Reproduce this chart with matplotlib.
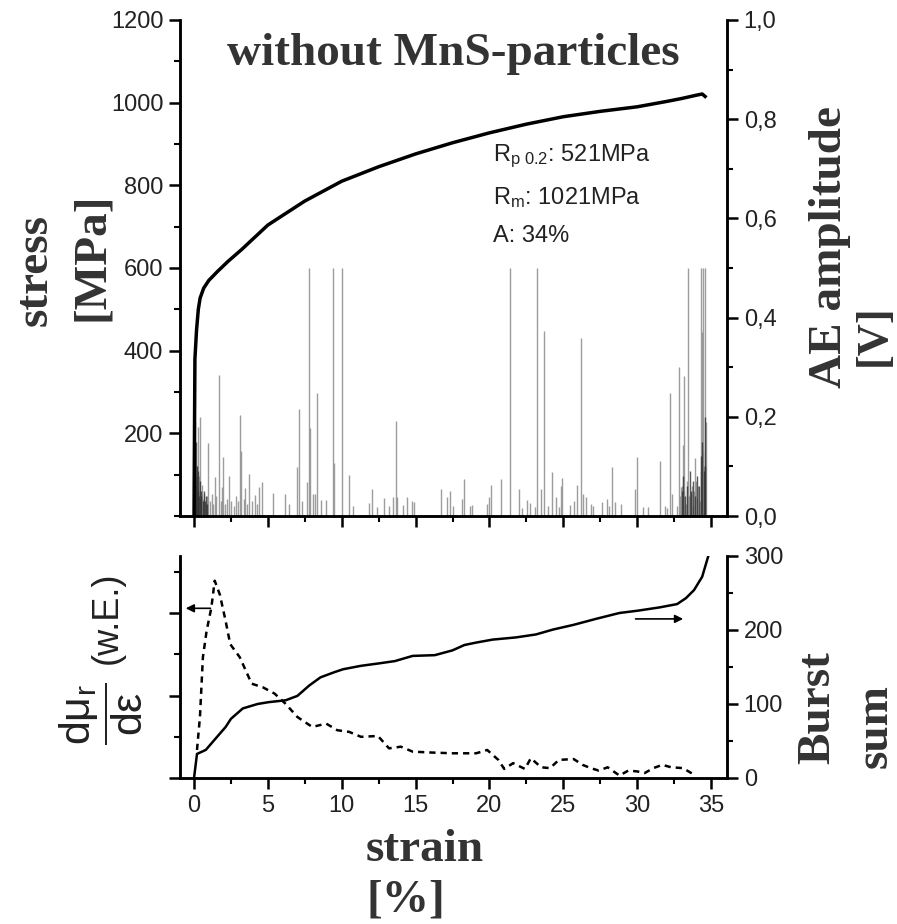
import matplotlib
matplotlib.use("Agg")
import matplotlib.pyplot as plt
from matplotlib.ticker import MultipleLocator, FuncFormatter

plt.rcParams['font.family'] = ['Liberation Sans', 'DejaVu Sans']
plt.rcParams['mathtext.fontset'] = 'custom'
plt.rcParams['mathtext.rm'] = 'Liberation Sans'
plt.rcParams['mathtext.it'] = 'Liberation Sans'

# --- stress-strain curve (top, left axis) ---
stress_strain = [0.0, 0.03, 0.06, 0.17, 0.29, 0.41, 0.65, 1.0, 1.6, 2.3, 3.2, 5.0, 7.5, 10.0,
                 12.5, 15.0, 17.5, 20.0, 22.5, 25.0, 27.5, 30.0, 32.0, 33.0, 34.0, 34.4, 34.6]
stress_mpa = [0, 200, 380, 450, 500, 527, 551, 570, 592, 616, 644, 704, 762, 810,
              845, 876, 903, 927, 948, 966, 979, 990, 1003, 1010, 1018, 1021, 1015]

# --- AE amplitude bursts (top, right axis) ---
ae_strain = [0.12, 0.18, 0.22, 0.29, 0.35, 0.41, 0.48, 0.55, 0.62, 0.70, 0.78, 0.85, 0.97,
             1.05, 1.20, 1.30, 1.42, 1.50, 1.71, 1.80, 1.90, 1.94, 2.10, 2.25, 2.39, 2.50,
             2.70, 2.85, 3.00, 3.14, 3.18, 3.35, 3.48, 3.60, 3.72, 3.90, 4.11, 4.25, 4.38,
             4.58, 5.33, 6.16, 6.40, 6.95, 7.13, 7.30, 7.63, 7.78, 7.82, 8.05, 8.20, 8.35,
             8.62, 8.94, 9.39, 9.48, 10.0, 10.49, 10.74, 11.87, 12.03, 12.37, 12.86, 13.22,
             13.49, 13.68, 13.76, 14.17, 14.40, 14.74, 14.90, 16.72, 17.11, 17.36, 17.56,
             18.12, 18.30, 18.69, 18.85, 19.82, 20.00, 20.11, 20.77, 21.38, 22.03, 22.23,
             22.55, 22.77, 23.09, 23.25, 23.49, 23.72, 23.99, 24.26, 24.49, 24.71, 24.85,
             24.90, 25.46, 25.75, 25.91, 26.22, 26.36, 26.54, 26.86, 27.04, 27.60, 27.94,
             28.12, 28.28, 28.50, 28.91, 29.86, 30.01, 30.38, 30.72, 31.55, 31.89, 32.05,
             32.20, 32.34, 32.72, 32.85, 32.90, 32.95, 33.00, 33.09, 33.15, 33.20, 33.31,
             33.35, 33.45, 33.50, 33.63, 33.70, 33.81, 33.85, 33.94, 34.00, 34.08, 34.15,
             34.26, 34.30, 34.35, 34.40, 34.45, 34.48, 34.50, 34.55, 34.60, 34.66]
ae_amp = [0.06, 0.10, 0.04, 0.18, 0.08, 0.199, 0.03, 0.062, 0.035, 0.045, 0.025, 0.04, 0.147,
          0.03, 0.045, 0.025, 0.079, 0.04, 0.284, 0.03, 0.058, 0.119, 0.025, 0.035, 0.081, 0.03,
          0.02, 0.04, 0.03, 0.204, 0.131, 0.035, 0.057, 0.025, 0.085, 0.03, 0.042, 0.025, 0.058,
          0.069, 0.046, 0.044, 0.025, 0.099, 0.215, 0.03, 0.069, 0.5, 0.177, 0.045, 0.045, 0.248,
          0.033, 0.033, 0.5, 0.106, 0.5, 0.082, 0.021, 0.027, 0.054, 0.019, 0.037, 0.021,
          0.038, 0.191, 0.038, 0.023, 0.038, 0.030, 0.028, 0.054, 0.038, 0.051, 0.021,
          0.035, 0.075, 0.021, 0.023, 0.024, 0.038, 0.063, 0.075, 0.5, 0.054, 0.016,
          0.033, 0.027, 0.018, 0.5, 0.054, 0.372, 0.021, 0.088, 0.039, 0.019, 0.061,
          0.076, 0.023, 0.031, 0.063, 0.358, 0.045, 0.038, 0.025, 0.021, 0.028, 0.035,
          0.021, 0.099, 0.029, 0.025, 0.054, 0.119, 0.019, 0.019, 0.110, 0.021, 0.016,
          0.248, 0.045, 0.021, 0.300, 0.04, 0.058, 0.06, 0.143, 0.282, 0.05, 0.025,
          0.07, 0.5, 0.04, 0.045, 0.06, 0.021, 0.05, 0.117, 0.07, 0.035, 0.06,
          0.031, 0.5, 0.09, 0.370, 0.5, 0.132, 0.10, 0.08, 0.5, 0.190]

# dense dark clusters at the start and end of the test
dense_strain = [0.05, 0.08, 0.10, 0.14, 0.16, 0.20, 0.24, 0.27, 0.32, 0.38, 0.44, 0.50, 0.58,
                0.66, 0.74, 0.82, 0.90, 33.00, 33.10, 33.25, 33.40, 33.55, 33.65, 33.75,
                33.90, 34.05, 34.20, 34.35, 34.42, 34.50, 34.58, 34.62]
dense_amp = [0.12, 0.19, 0.08, 0.15, 0.06, 0.10, 0.05, 0.09, 0.04, 0.07, 0.05, 0.04, 0.03,
             0.05, 0.03, 0.04, 0.025, 0.05, 0.08, 0.04, 0.06, 0.09, 0.05, 0.07, 0.04, 0.08,
             0.06, 0.12, 0.15, 0.09, 0.20, 0.10]

# --- dmu/deps (bottom, left axis, arbitrary units) ---
deriv_strain = [0.2, 0.4, 0.6, 0.85, 1.17, 1.4, 1.75, 2.14, 2.45, 3.1, 3.9, 4.67, 5.45, 6.2,
                7.0, 8.0, 8.95, 9.7, 10.5, 11.3, 12.45, 13.2, 14.0, 14.8, 15.95, 17.5, 19.1,
                19.85, 20.6, 21.0, 21.6, 22.4, 22.8, 23.5, 24.1, 24.7, 25.7, 26.3, 26.85,
                27.4, 28.0, 28.8, 29.4, 30.0, 30.5, 31.1, 31.7, 32.3, 33.1, 33.85]
deriv_val = [0.68, 1.48, 2.93, 3.57, 4.13, 4.79, 4.45, 3.81, 3.25, 2.93, 2.29, 2.2, 2.05, 1.8,
             1.48, 1.24, 1.32, 1.16, 1.12, 1.0, 1.02, 0.72, 0.76, 0.64, 0.62, 0.6, 0.6,
             0.68, 0.44, 0.22, 0.36, 0.22, 0.48, 0.26, 0.24, 0.44, 0.46, 0.32, 0.24,
             0.18, 0.26, 0.06, 0.18, 0.16, 0.12, 0.24, 0.32, 0.26, 0.24, 0.08]

# --- burst sum (bottom, right axis) ---
burst_strain = [0.0, 0.2, 0.8, 1.36, 2.14, 2.5, 3.3, 4.3, 5.05, 6.2, 7.0, 7.8, 8.56, 9.5, 10.1,
                11.3, 12.45, 13.6, 14.8, 16.3, 17.5, 18.3, 19.1, 20.2, 21.8, 23.15, 24.3,
                25.7, 27.2, 28.8, 30.0, 31.5, 32.7, 33.3, 33.85, 34.4, 34.8]
burst_sum = [0, 32.5, 38, 51, 69, 80, 94, 100, 102.5, 105, 111, 125, 136, 143, 147,
             151.6, 154.7, 158, 165, 166, 172.5, 179.7, 183, 187, 190, 194, 200.6,
             207, 215, 223, 226, 230.5, 235, 243, 254, 272, 299]

x_ticks = [0, 5, 10, 15, 20, 25, 30, 35]

W, H = 897, 924
fig = plt.figure(figsize=(W / 100, H / 100), dpi=100)
ax1 = fig.add_axes([180 / W, 1 - 516 / H, 547 / W, 496 / H])
ax1r = ax1.twinx()
ax2 = fig.add_axes([180 / W, 1 - 778 / H, 547 / W, 222 / H])
ax2r = ax2.twinx()

tick_color = '#222222'
label_color = '#333333'
serif = dict(family='Liberation Serif', fontweight='bold', color=label_color)

for ax in (ax1, ax1r, ax2, ax2r):
    ax.set_xlim(-0.95, 36.08)
    ax.spines['top'].set_visible(False)
    for s in ('left', 'right', 'bottom'):
        ax.spines[s].set_linewidth(1.8)
    ax.tick_params(which='major', direction='out', length=8, width=1.8,
                   labelsize=17, labelcolor=tick_color, pad=4)
    ax.tick_params(which='minor', direction='out', length=4.5, width=1.5)
    ax.xaxis.set_major_locator(MultipleLocator(5))
    ax.xaxis.set_minor_locator(MultipleLocator(2.5))

# top panel
ax1r.vlines(ae_strain, 0, ae_amp, color='#8c8c8c', lw=1.0, alpha=0.85)
ax1r.vlines(dense_strain, 0, dense_amp, color='#303030', lw=1.0, alpha=0.8)
ax1.plot(stress_strain, stress_mpa, color='black', lw=2.5)
ax1.set_zorder(ax1r.get_zorder() + 1)
ax1.patch.set_visible(False)

ax1.set_ylim(0, 1200)
ax1.set_yticks([200, 400, 600, 800, 1000, 1200])
ax1.yaxis.set_minor_locator(MultipleLocator(100))
ax1.tick_params(axis='x', labelbottom=False)
ax1r.set_ylim(0, 1.0)
ax1r.yaxis.set_major_locator(MultipleLocator(0.2))
ax1r.yaxis.set_minor_locator(MultipleLocator(0.1))
ax1r.yaxis.set_major_formatter(FuncFormatter(lambda v, p: f'{v:.1f}'.replace('.', ',')))

ax1.text(0.5, 0.932, 'without MnS-particles', transform=ax1.transAxes,
         ha='center', va='center', fontsize=34, **serif)
ax1.text(493 / W, 1 - 156 / H, r'R$_{\mathrm{p\ 0.2}}$: 521MPa', transform=fig.transFigure,
         fontsize=17, va='center', color=tick_color)
ax1.text(493 / W, 1 - 198 / H, r'R$_{\mathrm{m}}$: 1021MPa', transform=fig.transFigure,
         fontsize=17, va='center', color=tick_color)
ax1.text(493 / W, 1 - 236 / H, 'A: 34%', transform=fig.transFigure,
         fontsize=17, va='center', color=tick_color)

# bottom panel
ax2.plot(deriv_strain, deriv_val, color='black', lw=1.8, ls=(0, (2.5, 2)))
ax2r.plot(burst_strain, burst_sum, color='black', lw=1.8)
ax2.set_ylim(0, 5.39)
ax2.set_yticks([0, 2, 4])
ax2.set_yticks([1, 3, 5], minor=True)
ax2.tick_params(axis='y', labelleft=False)
ax2.set_xticks(x_ticks)
ax2r.set_ylim(0, 300)
ax2r.yaxis.set_major_locator(MultipleLocator(100))
ax2r.yaxis.set_minor_locator(MultipleLocator(50))

ax2.annotate('', xy=(-0.75, 4.12), xytext=(1.3, 4.12),
             arrowprops=dict(arrowstyle='-|>', color='black', lw=1.2, mutation_scale=12))
ax2r.annotate('', xy=(33.3, 215), xytext=(29.7, 215),
              arrowprops=dict(arrowstyle='-|>', color='black', lw=1.2, mutation_scale=12))

# axis labels
fig.text(36 / W, 1 - 270 / H, 'stress', rotation=90, ha='center', va='center',
         fontsize=34, **serif)
fig.text(92 / W, 1 - 257 / H, '[MPa]', rotation=90, ha='center', va='center',
         fontsize=34, **serif)
fig.text(830 / W, 1 - 247 / H, 'AE amplitude', rotation=90, ha='center', va='center',
         fontsize=34, **serif)
fig.text(874 / W, 1 - 335 / H, '[V]', rotation=90, ha='center', va='center',
         fontsize=32, **serif)
fig.text(425 / W, 1 - 850 / H, 'strain', ha='center', va='center', fontsize=34, **serif)
fig.text(406 / W, 1 - 900 / H, '[%]', ha='center', va='center', fontsize=34, **serif)
fig.text(818 / W, 1 - 708 / H, 'Burst', rotation=90, ha='center', va='center',
         fontsize=34, **serif)
fig.text(876 / W, 1 - 726 / H, 'sum', rotation=90, ha='center', va='center',
         fontsize=34, **serif)
fig.text(101 / W, 1 - 714 / H, r'$\dfrac{\mathrm{d\mu_r}}{\mathrm{d\varepsilon}}$',
         rotation=90, ha='center', va='center', fontsize=31, color=tick_color)
fig.text(107 / W, 1 - 618 / H, '(w.E.)', rotation=90, ha='center', va='center',
         fontsize=26, color=tick_color)

fig.savefig('out.png', dpi=100, facecolor='white')
